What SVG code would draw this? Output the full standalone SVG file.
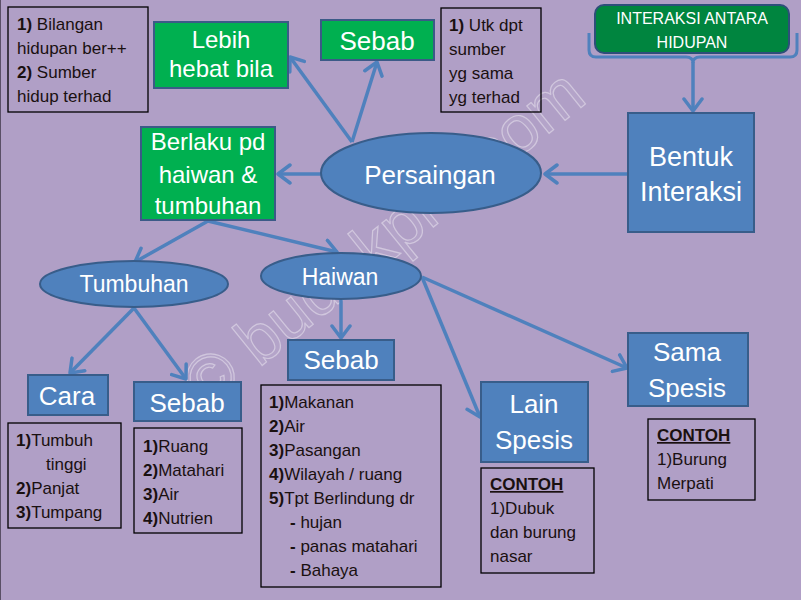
<svg xmlns="http://www.w3.org/2000/svg" width="801" height="600" viewBox="0 0 801 600">
<defs>
<style>
text{font-family:"Liberation Sans",Arial,sans-serif}
.blue{fill:#4f81bd;stroke:#385d8a;stroke-width:2}
.green{fill:#00b050;stroke:#3b5a87;stroke-width:2}
.note{fill:none;stroke:#000;stroke-width:1.3}
.w{fill:#fff;text-anchor:middle}
.t{fill:#1a1010;font-size:17px}
.conn{fill:none;stroke:#4f81bd;stroke-width:3.5;marker-end:url(#ah)}
</style>
<marker id="ah" viewBox="0 0 16 22" refX="14" refY="11" markerWidth="16" markerHeight="22" markerUnits="userSpaceOnUse" orient="auto">
<path d="M2,2 L14,11 L2,20" fill="none" stroke="#4f81bd" stroke-width="3.5" stroke-linecap="round" stroke-linejoin="round"/>
</marker>
</defs>
<rect x="0" y="0" width="801" height="600" fill="#b09fc6"/>
<line x1="0.5" y1="0" x2="0.5" y2="600" stroke="#5a4f66" stroke-width="1"/>

<text x="206" y="411" transform="rotate(-39 206 411)" font-size="67" fill="#ffffff" fill-opacity="0.06" stroke="#ffffff" stroke-opacity="0.4" stroke-width="1.2">© budakpro.com</text>

<g id="connectors">
<line class="conn" x1="628" y1="174" x2="545" y2="174"/>
<line class="conn" x1="321" y1="174" x2="278" y2="174"/>
<line class="conn" x1="352" y1="142" x2="290" y2="57"/>
<line class="conn" x1="352" y1="142" x2="377" y2="62"/>
<path d="M589,33 L589,50 Q589,57 596,57 L686,57 Q693,57 693,63 Q693,57 700,57 L790,57 Q797,57 797,50 L797,33" fill="none" stroke="#4f81bd" stroke-width="3"/>
<line class="conn" x1="693" y1="62" x2="693" y2="111"/>
<line class="conn" x1="208" y1="221" x2="135" y2="262"/>
<line class="conn" x1="208" y1="221" x2="337" y2="252"/>
<line class="conn" x1="134" y1="308" x2="70" y2="373"/>
<line class="conn" x1="134" y1="308" x2="186" y2="379"/>
<line class="conn" x1="341" y1="300" x2="341" y2="338"/>
<line class="conn" x1="422" y1="277" x2="480" y2="417"/>
<line class="conn" x1="422" y1="277" x2="627" y2="368"/>
</g>

<g id="note-bilangan">
<rect class="note" x="8" y="7" width="140" height="105"/>
<text class="t" x="17" y="30"><tspan font-weight="bold">1)</tspan> Bilangan</text>
<text class="t" x="17" y="54">hidupan ber++</text>
<text class="t" x="17" y="78"><tspan font-weight="bold">2)</tspan> Sumber</text>
<text class="t" x="17" y="102">hidup terhad</text>
</g>

<g id="lebih-hebat">
<rect class="green" x="154" y="22" width="134" height="66"/>
<text class="w" x="221" y="48" font-size="24">Lebih</text>
<text class="w" x="221" y="77" font-size="24">hebat bila</text>
</g>

<g id="sebab-persaingan">
<rect class="green" x="321" y="20" width="113" height="40"/>
<text class="w" x="377" y="50" font-size="26">Sebab</text>
</g>

<g id="note-utk">
<rect class="note" x="441" y="8" width="100" height="104"/>
<text class="t" x="449" y="31"><tspan font-weight="bold">1)</tspan> Utk dpt</text>
<text class="t" x="449" y="55">sumber</text>
<text class="t" x="449" y="79">yg sama</text>
<text class="t" x="449" y="103">yg terhad</text>
</g>

<g id="interaksi-antara">
<rect x="595" y="5" width="194" height="48" rx="9" ry="9" fill="#00853f" stroke="#2e4f7a" stroke-width="2"/>
<text class="w" x="692" y="24" font-size="16">INTERAKSI ANTARA</text>
<text class="w" x="692" y="48" font-size="16">HIDUPAN</text>
</g>

<g id="bentuk-interaksi">
<rect class="blue" x="628" y="113" width="126" height="119"/>
<text class="w" x="691" y="166" font-size="27">Bentuk</text>
<text class="w" x="691" y="201" font-size="27">Interaksi</text>
</g>

<g id="persaingan">
<ellipse class="blue" cx="431" cy="173" rx="110" ry="40"/>
<text class="w" x="430" y="184" font-size="26">Persaingan</text>
</g>

<g id="berlaku">
<rect class="green" x="141" y="127" width="134" height="93"/>
<text class="w" x="208" y="150" font-size="24">Berlaku pd</text>
<text class="w" x="208" y="183" font-size="24">haiwan &amp;</text>
<text class="w" x="208" y="214" font-size="24">tumbuhan</text>
</g>

<g id="tumbuhan">
<ellipse class="blue" cx="134" cy="284" rx="94" ry="23"/>
<text class="w" x="134" y="292" font-size="23">Tumbuhan</text>
</g>

<g id="haiwan">
<ellipse class="blue" cx="341" cy="276" rx="80" ry="23"/>
<text class="w" x="340" y="285" font-size="23">Haiwan</text>
</g>

<g id="cara">
<rect class="blue" x="28" y="375" width="80" height="40"/>
<text class="w" x="67" y="405" font-size="26">Cara</text>
</g>

<g id="sebab-tumbuhan">
<rect class="blue" x="134" y="382" width="107" height="39"/>
<text class="w" x="187" y="412" font-size="26">Sebab</text>
</g>

<g id="note-cara">
<rect class="note" x="8" y="423" width="113" height="105"/>
<text class="t" x="16" y="446"><tspan font-weight="bold">1)</tspan>Tumbuh</text>
<text class="t" x="46" y="470">tinggi</text>
<text class="t" x="16" y="494"><tspan font-weight="bold">2)</tspan>Panjat</text>
<text class="t" x="16" y="518"><tspan font-weight="bold">3)</tspan>Tumpang</text>
</g>

<g id="note-sebab-tumbuhan">
<rect class="note" x="134" y="428" width="108" height="105"/>
<text class="t" x="143" y="452"><tspan font-weight="bold">1)</tspan>Ruang</text>
<text class="t" x="143" y="476"><tspan font-weight="bold">2)</tspan>Matahari</text>
<text class="t" x="143" y="500"><tspan font-weight="bold">3)</tspan>Air</text>
<text class="t" x="143" y="524"><tspan font-weight="bold">4)</tspan>Nutrien</text>
</g>

<g id="sebab-haiwan">
<rect class="blue" x="288" y="340" width="106" height="40"/>
<text class="w" x="341" y="369" font-size="26">Sebab</text>
</g>

<g id="note-sebab-haiwan">
<rect class="note" x="261" y="385" width="180" height="202"/>
<text class="t" x="269" y="408"><tspan font-weight="bold">1)</tspan>Makanan</text>
<text class="t" x="269" y="432"><tspan font-weight="bold">2)</tspan>Air</text>
<text class="t" x="269" y="456"><tspan font-weight="bold">3)</tspan>Pasangan</text>
<text class="t" x="269" y="480"><tspan font-weight="bold">4)</tspan>Wilayah / ruang</text>
<text class="t" x="269" y="504"><tspan font-weight="bold">5)</tspan>Tpt Berlindung dr</text>
<text class="t" x="290" y="528"><tspan font-weight="bold">-</tspan> hujan</text>
<text class="t" x="290" y="552"><tspan font-weight="bold">-</tspan> panas matahari</text>
<text class="t" x="290" y="576"><tspan font-weight="bold">-</tspan> Bahaya</text>
</g>

<g id="lain-spesis">
<rect class="blue" x="481" y="382" width="107" height="80"/>
<text class="w" x="534" y="413" font-size="26">Lain</text>
<text class="w" x="534" y="449" font-size="26">Spesis</text>
</g>

<g id="sama-spesis">
<rect class="blue" x="628" y="333" width="120" height="73"/>
<text class="w" x="687" y="361" font-size="26">Sama</text>
<text class="w" x="687" y="397" font-size="26">Spesis</text>
</g>

<g id="note-lain">
<rect class="note" x="481" y="468" width="113" height="105"/>
<text class="t" x="490" y="490" font-weight="bold" text-decoration="underline">CONTOH</text>
<text class="t" x="490" y="514">1)Dubuk</text>
<text class="t" x="490" y="538">dan burung</text>
<text class="t" x="490" y="562">nasar</text>
</g>

<g id="note-sama">
<rect class="note" x="648" y="419" width="107" height="81"/>
<text class="t" x="657" y="441" font-weight="bold" text-decoration="underline">CONTOH</text>
<text class="t" x="657" y="465">1)Burung</text>
<text class="t" x="657" y="489">Merpati</text>
</g>
</svg>
